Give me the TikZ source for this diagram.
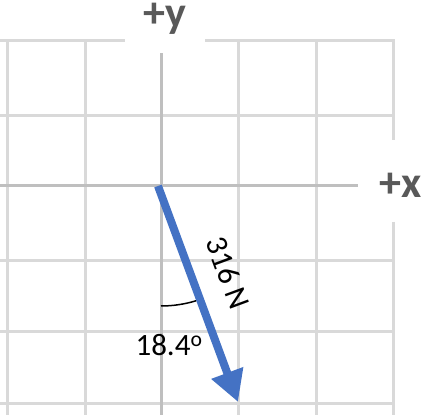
\documentclass[tikz,border=0pt]{standalone}
\usepackage{fontspec}
\setmainfont{Carlito}
\usetikzlibrary{arrows.meta}
\definecolor{gridgray}{HTML}{D9D9D9}
\definecolor{axisgray}{HTML}{BFBFBF}
\definecolor{lblgray}{HTML}{595959}
\definecolor{vecblue}{HTML}{4472C4}

\begin{document}
\begin{tikzpicture}[
        x=1pt, y=1pt,
        gridline/.style={draw=gridgray, line width=3pt},
        axisline/.style={draw=axisgray, line width=3pt},
        axislabel/.style={font=\fontsize{44}{44}\selectfont\bfseries, text=lblgray, inner sep=0pt},
        vec/.style={draw=vecblue, line width=8pt, -{Triangle[length=31pt, width=32pt]}},
        valabel/.style={font=\fontsize{31}{31}\selectfont, inner sep=0pt}
    ]
        \useasboundingbox (0,0) rectangle (434,415);
        \fill[white] (0,0) rectangle (434,415);

        \foreach \xg in {7,85,238,316} \draw[gridline] (\xg,0) -- (\xg,374);
        \foreach \yg in {11,83,154,299} \draw[gridline] (0,\yg) -- (393,\yg);
        \draw[gridline] (0,374) -- (125,374);
        \draw[gridline] (205,374) -- (393,374) -- (393,275);
        \draw[gridline] (393,193) -- (393,0);

        \draw[axisline] (161,0) -- (161,362);
        \draw[axisline] (0,229) -- (358,229);

        \node[axislabel] (ylabel) at (165,396) {+y};
        \node[axislabel] (xlabel) at (401,230) {+x};

        \coordinate (origin) at (158,229);
        \coordinate (tip) at (238,13);
        \draw[vec] (origin) -- (tip);
        \draw[line width=1.5pt] (161,109) arc[start angle=270, end angle=287, radius=120];

        \node[valabel, rotate=-69.7] (force) at (228,142) {316 N};
        \node[valabel] (angle) at (169,70) {18.4\textsuperscript{o}};
    \end{tikzpicture}
\end{document}
